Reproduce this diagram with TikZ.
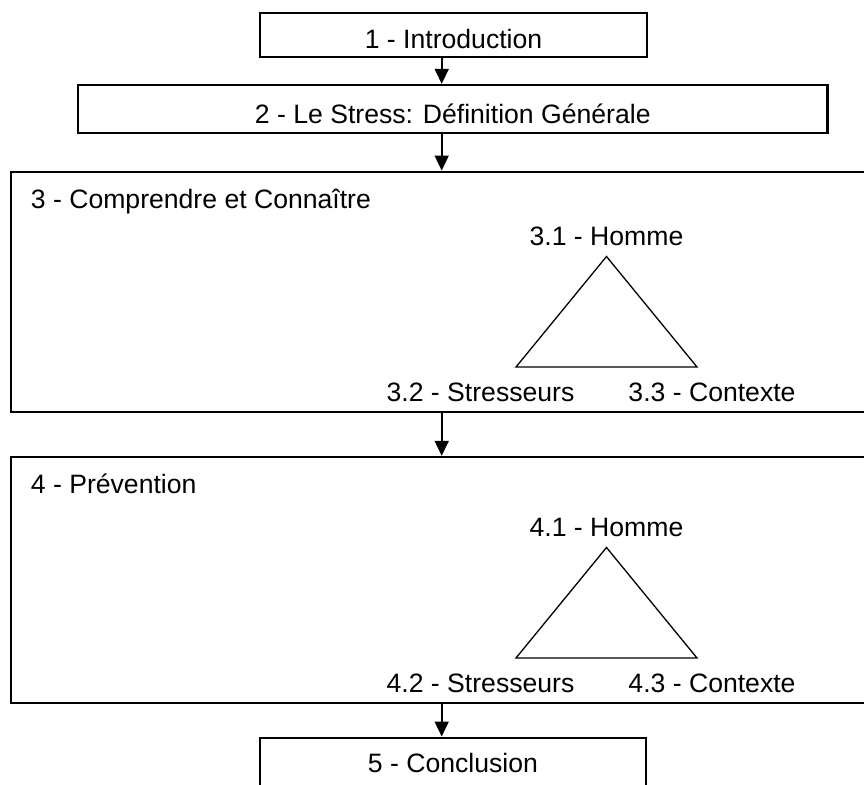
\documentclass[tikz,border=0pt]{standalone}
\usepackage{fontspec}
\setmainfont{Liberation Sans}
\usetikzlibrary{arrows.meta}

\tikzset{
    box/.style={draw, line width=1.15pt, inner sep=0pt, text depth=0pt, font=\fontsize{13.3pt}{16pt}\selectfont},
    frame/.style={draw, line width=1.15pt, inner sep=0pt, minimum width=430.5pt},
    lbl/.style={inner sep=0pt, font=\fontsize{13.3pt}{16pt}\selectfont},
    tri/.style={line width=0.65pt, line join=miter},
    flow/.style={line width=0.85pt, -{Triangle[width=7pt, length=7.5pt]}}
}

\def\triad#1#2{ % #1 Nummer, #2 y der Grundlinie
    \coordinate (apex#1) at (606.5,{#2-110.5});
    \coordinate (left#1) at (516,#2);
    \coordinate (right#1) at (697,#2);
    \draw[tri] (apex#1) -- (left#1) -- (right#1) -- cycle;
    \node[lbl, anchor=base] (homme#1) at (606.5,{#2-121}) {#1.1 - Homme};
    \node[lbl, anchor=base] (stress#1) at (480.5,{#2+34.7}) {#1.2 - Stresseurs};
    \node[lbl, anchor=base] (contexte#1) at (712,{#2+34.7}) {#1.3 - Contexte};
}

\begin{document}
\begin{tikzpicture}[x=0.5pt, y=-0.5pt]
        \useasboundingbox (0,0) rectangle (864,785);
        \clip (0,0) rectangle (864,785);
        \coordinate (ax) at (441.7,0); %achse der pfeile

        \node[box, minimum width=193.5pt, minimum height=22pt, text height=13.6pt] (intro) at (453.5,34.7) {1 - Introduction};
        \node[box, minimum width=374.75pt, minimum height=23.85pt, text height=15pt] (stress) at (452.75,108.9) {2 - Le Stress: Définition Générale};

        % --------------------------------------------------

        \node[frame, minimum height=120pt] (part3) at (441.5,291.7) {};
        \node[lbl, anchor=base west] (titre3) at (30.5,208.5) {3 - Comprendre et Connaître};
        \triad{3}{367};

        % --------------------------------------------------

        \node[frame, minimum height=123pt] (part4) at (441.5,580) {};
        \node[lbl, anchor=base west] (titre4) at (30.5,494) {4 - Prévention};
        \triad{4}{658};

        % --------------------------------------------------

        \node[box, minimum width=193pt, minimum height=24pt, text height=11pt] (concl) at (453,761.7) {5 - Conclusion};

        \draw[flow] (intro.south -| ax) -- (stress.north -| ax);
        \draw[flow] (stress.south -| ax) -- (part3.north -| ax);
        \draw[flow] (part3.south -| ax) -- (part4.north -| ax);
        \draw[flow] (part4.south -| ax) -- (concl.north -| ax);
\end{tikzpicture}
\end{document}
